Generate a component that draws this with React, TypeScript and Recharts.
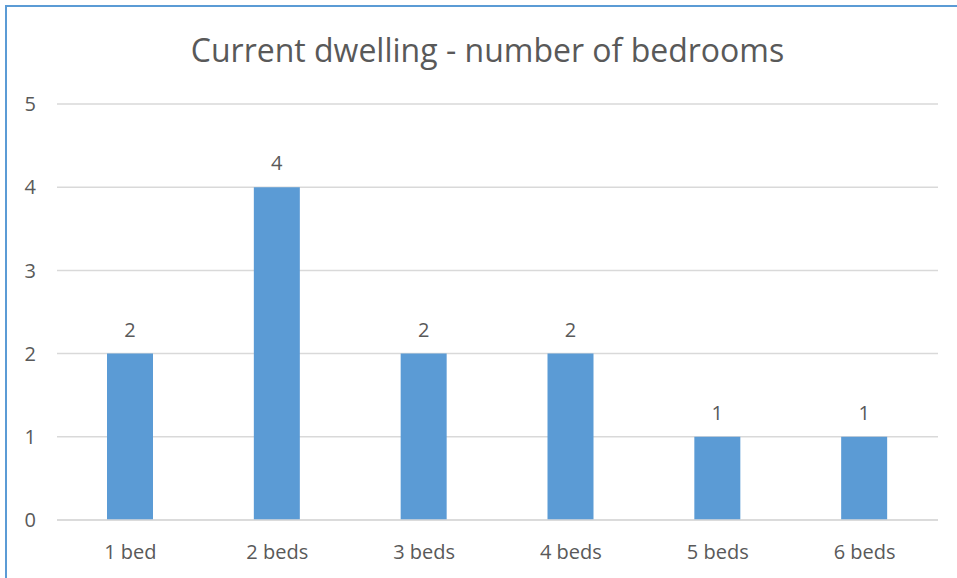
import React from "react";
import { BarChart, Bar, XAxis, YAxis, CartesianGrid, LabelList } from "recharts";

const categories = ["1 bed", "2 beds", "3 beds", "4 beds", "5 beds", "6 beds"];
const counts = [2, 4, 2, 2, 1, 1];
const yTicks = [0, 1, 2, 3, 4, 5];
const title = "Current dwelling - number of bedrooms";

const data = categories.map((c, i) => ({ name: c, value: counts[i] }));

const FONT = "'Open Sans', 'Noto Sans', sans-serif";
const TEXT = "#595959";

export default function App() {
  return (
    <div style={{ position: "absolute", left: 0, top: 0, width: 957, height: 578, overflow: "hidden", background: "#fff" }}>
      <div
        style={{
          position: "absolute",
          left: 5,
          top: 5,
          width: 1000,
          height: 1000,
          borderLeft: "2px solid #5B9BD5",
          borderTop: "2px solid #5B9BD5",
        }}
      />
      <div
        style={{
          position: "absolute",
          left: 0,
          top: 28,
          width: 975,
          textAlign: "center",
          fontFamily: FONT,
          fontSize: 32,
          color: TEXT,
          lineHeight: "44px",
        }}
      >
        {title}
      </div>
      <div style={{ position: "absolute", left: 0, top: 0 }}>
        <BarChart
          width={957}
          height={578}
          data={data}
          margin={{ top: 104, right: 19, bottom: 28, left: 17 }}
        >
          <CartesianGrid vertical={false} stroke="#D9D9D9" strokeWidth={1.5} />
          <XAxis
            dataKey="name"
            height={30}
            axisLine={{ stroke: "#D9D9D9", strokeWidth: 1.5 }}
            tickLine={false}
            tickMargin={19}
            tick={{ fill: TEXT, fontSize: 20, fontFamily: FONT }}
          />
          <YAxis
            width={40}
            domain={[0, 5]}
            ticks={yTicks}
            axisLine={false}
            tickLine={false}
            tickMargin={15}
            tick={{ fill: TEXT, fontSize: 20, fontFamily: FONT }}
          />
          <Bar dataKey="value" fill="#5B9BD5" barSize={46} isAnimationActive={false}>
            <LabelList dataKey="value" position="top" offset={17} fill={TEXT} fontSize={20} fontFamily={FONT} />
          </Bar>
        </BarChart>
      </div>
    </div>
  );
}
